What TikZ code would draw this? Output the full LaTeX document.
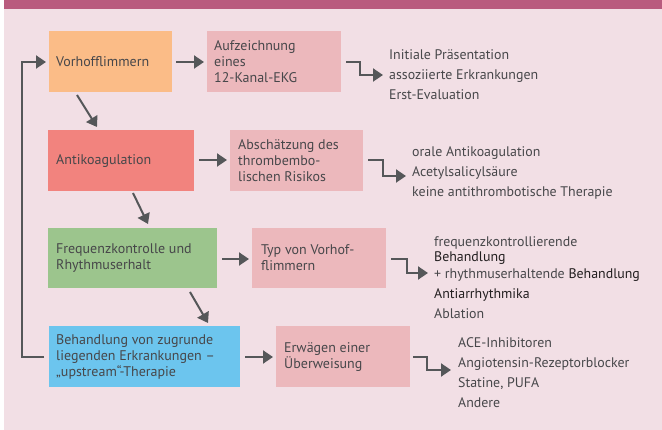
\documentclass[tikz,border=0pt]{standalone}
\usepackage{fontspec}
\setmainfont{PT Sans}
\usetikzlibrary{arrows.meta}
\definecolor{bgc}{HTML}{F2DFE5}
\definecolor{band}{HTML}{B95B7E}
\definecolor{cOrange}{HTML}{FBBC87}
\definecolor{cRed}{HTML}{F2837E}
\definecolor{cGreen}{HTML}{9CC58D}
\definecolor{cBlue}{HTML}{6CC5EE}
\definecolor{cPale}{HTML}{ECB8BC}
\definecolor{ink}{HTML}{47474A}
\definecolor{inkdark}{HTML}{231F20}
\definecolor{arr}{HTML}{555759}
\tikzset{
  boxtext/.style={anchor=west, align=left, inner sep=0pt, text=ink,
    font=\fontsize{14}{16}\selectfont},
  listtext/.style={anchor=west, align=left, inner sep=0pt, text=ink,
    font=\fontsize{13.9}{20}\selectfont},
  arrow/.style={draw=arr, line width=2pt, -{Triangle[length=10pt,width=13pt]}},
  steparrow/.style={draw=arr, line width=2pt, -{Triangle[length=10pt,width=13pt]}},
}
\begin{document}
\begin{tikzpicture}[x=1pt,y=-1pt]
\useasboundingbox (0,0) rectangle (662,430);
\fill[bgc] (4,9) rectangle (662,430);
\fill[band] (4,0) rectangle (662,9);

% boxes
\fill[cOrange] (49,31) rectangle (172,92);
\fill[cPale] (207,31) rectangle (341,92);
\fill[cRed] (48,130) rectangle (194,191);
\fill[cPale] (230,130) rectangle (363,191);
\fill[cGreen] (48,228) rectangle (217,288);
\fill[cPale] (252,228) rectangle (386,288);
\fill[cBlue] (49,326) rectangle (240,387);
\fill[cPale] (276,326) rectangle (410,387);

\node[boxtext] (t1) at (56,62) {Vorhofflimmern};
\node[boxtext] (t1b) at (214,62) {Aufzeichnung\\eines\\12-Kanal-EKG};
\node[boxtext] (t2) at (56,161) {Antikoagulation};
\node[boxtext] (t2b) at (238,161) {Abschätzung des\\thrombembo-\\lischen Risikos};
\node[boxtext] (t3) at (56,258) {Frequenzkontrolle und\\Rhythmuserhalt};
\node[boxtext] (t3b) at (261,258) {Typ von Vorhof-\\flimmern};
\node[boxtext] (t4) at (56,357) {Behandlung von zugrunde\\liegenden Erkrankungen –\\„upstream“-Therapie};
\node[boxtext] (t4b) at (284,357) {Erwägen einer\\Überweisung};

% lists
\node[listtext] (l1) at (389,75) {Initiale Präsentation\\assoziierte Erkrankungen\\Erst-Evaluation};
\node[listtext] (l2) at (412,173) {orale Antikoagulation\\Acetylsalicylsäure\\keine antithrombotische Therapie};
\node[listtext] (l3) at (434,278) {frequenzkontrollierende\\[-5pt]\textcolor{inkdark}{Behandlung}\\[-3pt]+ rhythmuserhaltende \textcolor{inkdark}{Behandlung}\\\textcolor{inkdark}{Antiarrhythmika}\\Ablation};
\node[listtext] (l4) at (458,373) {ACE-Inhibitoren\\Angiotensin-Rezeptorblocker\\Statine, PUFA\\Andere};

% horizontal arrows
\coordinate (a1s) at (176,62); \coordinate (a1e) at (204,62);
\draw[arrow] (a1s) -- (a1e);
\coordinate (a2s) at (199,160); \coordinate (a2e) at (227,160);
\draw[arrow] (a2s) -- (a2e);
\coordinate (a3s) at (222,259); \coordinate (a3e) at (249,259);
\draw[arrow] (a3s) -- (a3e);
\coordinate (a4s) at (245,357); \coordinate (a4e) at (273,357);
\draw[arrow] (a4s) -- (a4e);

% diagonal arrows
\coordinate (d1s) at (77,95); \coordinate (d1e) at (97,127);
\draw[arrow] (d1s) -- (d1e);
\coordinate (d2s) at (133,193); \coordinate (d2e) at (148,224);
\draw[arrow] (d2s) -- (d2e);
\coordinate (d3s) at (190,292); \coordinate (d3e) at (208,323);
\draw[arrow] (d3s) -- (d3e);

% step arrows
\coordinate (s1s) at (346,62); \coordinate (s1e) at (383,75);
\draw[steparrow] (s1s) -- (360,62) -- (360,75) -- (s1e);
\coordinate (s2s) at (368,160); \coordinate (s2e) at (406,176);
\draw[steparrow] (s2s) -- (383,160) -- (383,176) -- (s2e);
\coordinate (s3s) at (391,259); \coordinate (s3e) at (428,273);
\draw[steparrow] (s3s) -- (407,259) -- (407,273) -- (s3e);
\coordinate (s4s) at (413,357); \coordinate (s4e) at (451,370);
\draw[steparrow] (s4s) -- (427,357) -- (427,370) -- (s4e);

% feedback loop
\coordinate (fbs) at (44,357); \coordinate (fbe) at (46,62);
\draw[arrow] (fbs) -- (22,357) -- (22,62) -- (fbe);
\end{tikzpicture}
\end{document}
